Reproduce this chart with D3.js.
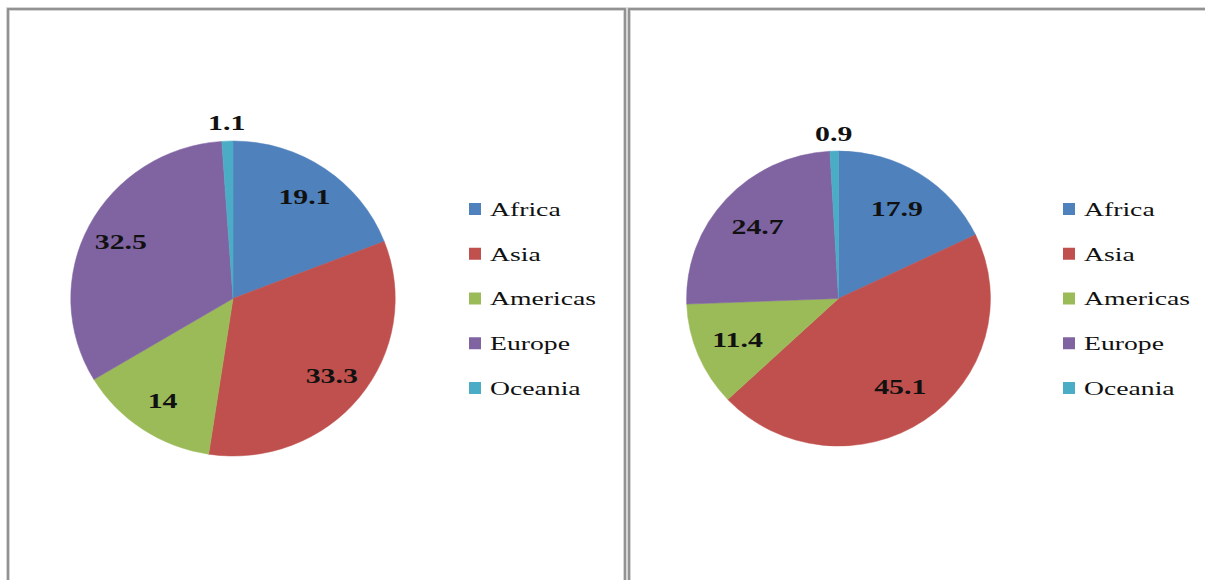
<!DOCTYPE html>
<html>
<head>
<meta charset="utf-8">
<script src="https://cdn.jsdelivr.net/npm/d3@7"></script>
<style>
  html, body { margin: 0; padding: 0; background: #fff; }
  svg { display: block; }
</style>
</head>
<body>
<svg id="chart" width="1205" height="580"></svg>
<script>
// Regional shares (%), two periods
const regions = ["Africa", "Asia", "Americas", "Europe", "Oceania"];
const sharesA = [19.1, 33.3, 14, 32.5, 1.1];
const sharesB = [17.9, 45.1, 11.4, 24.7, 0.9];
const colors = ["#4F81BD", "#C0504D", "#9BBB59", "#8064A2", "#4BACC6"];

const svg = d3.select("#chart");
const W = 1205, H = 580;

const color = d3.scaleOrdinal().domain(regions).range(colors);

// Panel definitions (frame + pie placement)
const panels = [
  { values: sharesA, x0: 8, x1: 625, cx: 233, cy: 298.5, r: 157.5, labelR: 0.78, legendX: 469 },
  { values: sharesB, x0: 629, x1: 1215, cx: 838.5, cy: 298.5, r: 147.5, labelR: 0.72, legendX: 1063 }
];

const stretchX = 1.03;   // pies are slightly wider than tall
const textStretch = 1.42;
const serif = "'Liberation Serif', 'Times New Roman', Times, serif";

const pie = d3.pie().sort(null).value(d => d.value);

panels.forEach(p => {
  // frame
  svg.append("rect")
    .attr("x", p.x0).attr("y", 9)
    .attr("width", p.x1 - p.x0).attr("height", H + 20)
    .attr("fill", "none")
    .attr("stroke", "#c8c8c8").attr("stroke-width", 3.5);
  svg.append("rect")
    .attr("x", p.x0).attr("y", 9)
    .attr("width", p.x1 - p.x0).attr("height", H + 20)
    .attr("fill", "none")
    .attr("stroke", "#858585").attr("stroke-width", 1.6);

  const data = regions.map((name, i) => ({ name, value: p.values[i] }));
  const arcs = pie(data);
  const arc = d3.arc().innerRadius(0).outerRadius(p.r);

  const g = svg.append("g")
    .attr("transform", `translate(${p.cx},${p.cy}) scale(${stretchX},1)`);

  g.selectAll("path")
    .data(arcs)
    .join("path")
    .attr("d", arc)
    .attr("fill", d => color(d.data.name))
    .attr("stroke", d => color(d.data.name))
    .attr("stroke-width", 0.5);

  // value labels: inside for large slices, just outside for tiny ones
  const inner = d3.arc().innerRadius(p.r * p.labelR).outerRadius(p.r * p.labelR);
  const outer = d3.arc().innerRadius(p.r * 1.12).outerRadius(p.r * 1.12);

  svg.selectAll(null)
    .data(arcs)
    .join("text")
    .attr("transform", d => {
      const c = (d.data.value < 3 ? outer : inner).centroid(d);
      return `translate(${p.cx + c[0] * stretchX},${p.cy + c[1]}) scale(${textStretch},1)`;
    })
    .attr("text-anchor", "middle")
    .attr("dy", "0.35em")
    .attr("font-family", serif)
    .attr("font-weight", "bold")
    .attr("font-size", 21)
    .attr("fill", "#111")
    .text(d => d.data.value);

  // legend
  const ly = d3.scalePoint().domain(regions).range([209, 388]);
  const lg = svg.append("g");
  regions.forEach(name => {
    const y = ly(name);
    lg.append("rect")
      .attr("x", p.legendX).attr("y", y - 6)
      .attr("width", 12).attr("height", 12)
      .attr("fill", color(name));
    lg.append("text")
      .attr("transform", `translate(${p.legendX + 21},${y}) scale(${textStretch},1)`)
      .attr("dy", "0.35em")
      .attr("font-family", serif)
      .attr("font-size", 19.5)
      .attr("fill", "#111")
      .text(name);
  });
});
</script>
</body>
</html>
